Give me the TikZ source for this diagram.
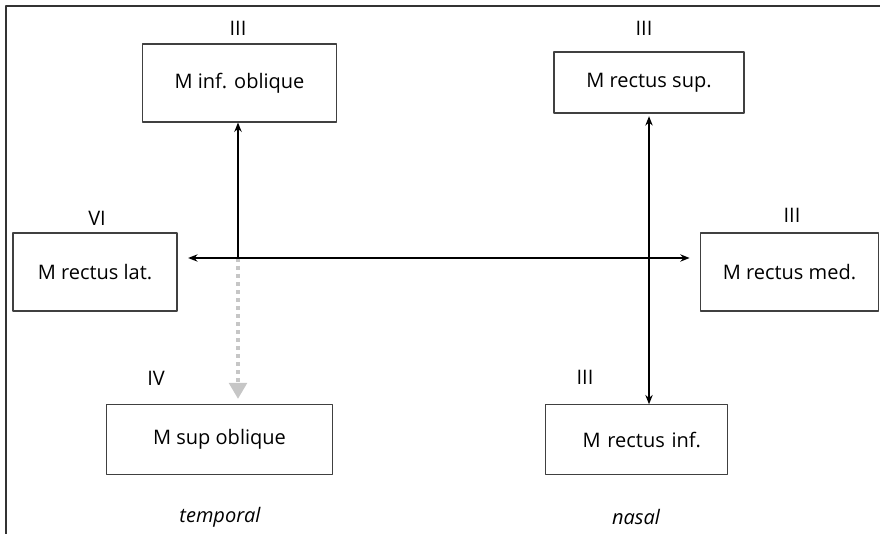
\documentclass[tikz,border=0pt]{standalone}
\usepackage{fontspec}
\setmainfont{Open Sans}
\usetikzlibrary{arrows.meta}
\begin{document}
\begin{tikzpicture}[x=0.75pt,y=-0.75pt,>={Stealth[length=7pt,width=5.5pt]},line join=round,font=\fontsize{15}{18}\selectfont,
	muscle/.style={draw=black!75,line width=0.8pt,inner sep=0pt},
	nerve/.style={inner sep=0pt},
	pull/.style={line width=2.2pt,black}]
	\useasboundingbox (0,0) rectangle (880,534);
	\draw[black!80,line width=1.1pt] (6,534)--(6,6)--(880,6);
	% muscles
	\node[muscle,minimum width=146pt,minimum height=58.5pt] (infobl) at (239.5,83) {M inf. oblique};
	\node[muscle,minimum width=123pt,minimum height=58.5pt] (lat) at (95,272) {M rectus lat.};
	\node[muscle,minimum width=142.5pt,minimum height=45.75pt] (sup) at (649,82.5) {M rectus sup.};
	\node[muscle,minimum width=133pt,minimum height=58.5pt] (med) at (789.5,272) {M rectus med.};
	\node[muscle,minimum width=169pt,minimum height=52pt] (supobl) at (219.5,439.5) {M sup oblique};
	\node[muscle,minimum width=136pt,minimum height=52pt,text width=120pt,align=center] (inf) at (636.5,439.5) {\hspace*{8pt}M rectus inf.};
	% nerves
	\node[nerve] (n1) at (238,28) {III};
	\node[nerve] (n2) at (644,28) {III};
	\node[nerve] (n3) at (97,218) {VI};
	\node[nerve] (n4) at (792,215) {III};
	\node[nerve] (n5) at (156,378) {IV};
	\node[nerve] (n6) at (585,377) {III};
	\node (temp) at (220,517) {\itshape temporal};
	\node (nas) at (636,517) {\itshape nasal};
	% pulls
	\coordinate (hub) at (238,258);
	\draw[gray!45,line width=3.5pt,dash pattern=on 3pt off 3pt,-{Triangle[width=13pt,length=12pt]},shorten >=4pt] (hub)--(hub |- supobl.north);
	\draw[pull,->] (hub)--(hub |- infobl.south);
	\draw[pull,<->,shorten <=8pt,shorten >=8pt] (lat.east |- hub)--(med.west |- hub);
	\draw[pull,<->,shorten <=2pt] (sup.south)--(sup.south |- inf.north);
\end{tikzpicture}
\end{document}
